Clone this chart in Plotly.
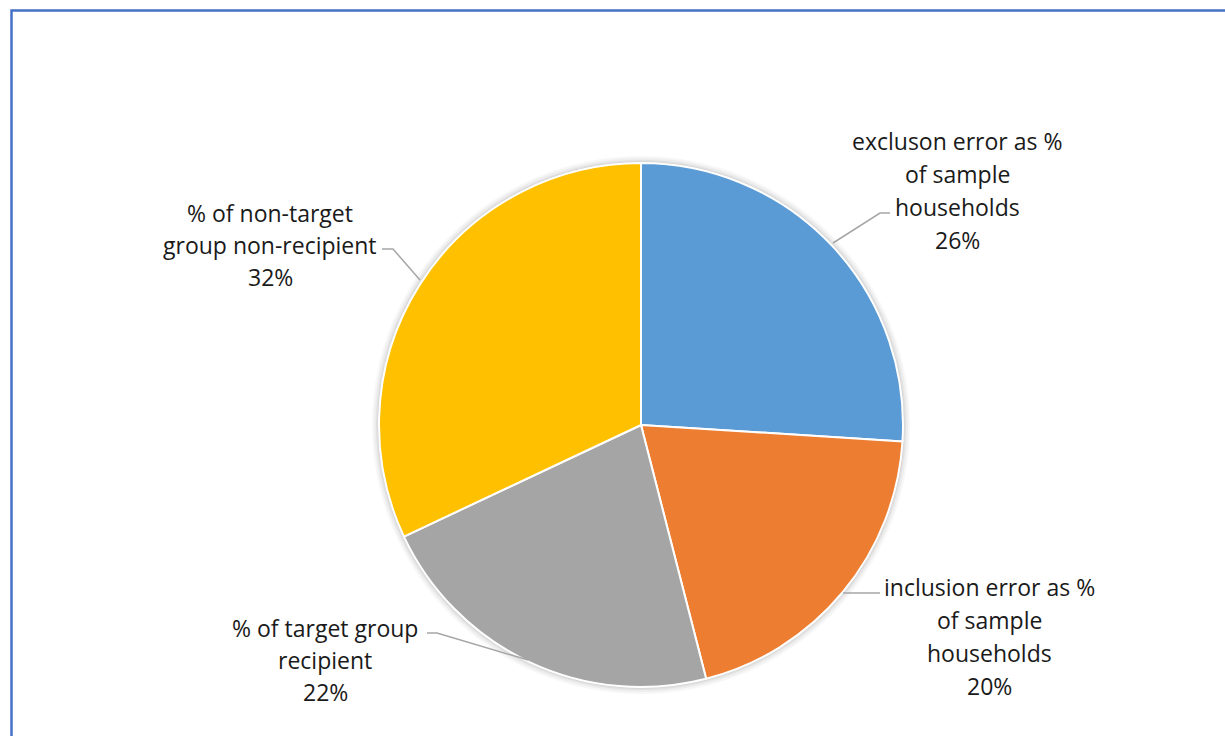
import plotly.graph_objects as go

# Slice data (clockwise from 12 o'clock)
labels = [
    "excluson error as % of sample households",
    "inclusion error as % of sample households",
    "% of target group recipient",
    "% of non-target group non-recipient",
]
values = [26, 20, 22, 32]
colors = ["#5B9BD5", "#ED7D31", "#A5A5A5", "#FFC000"]

# Wrapped label text shown outside the pie
label_lines = [
    ["excluson error as %", "of sample", "households"],
    ["inclusion error as %", "of sample", "households"],
    ["% of target group", "recipient"],
    ["% of non-target", "group non-recipient"],
]

W, H = 1225, 736
CX, CY, R = 641, 425, 262


def px(x):
    return x / W


def py(y):
    return 1 - y / H


fig = go.Figure(
    go.Pie(
        labels=labels,
        values=values,
        sort=False,
        direction="clockwise",
        rotation=0,
        marker=dict(colors=colors, line=dict(color="white", width=2)),
        textinfo="none",
        hoverinfo="label+percent",
        domain=dict(x=[px(CX - R), px(CX + R)], y=[py(CY + R), py(CY - R)]),
        showlegend=False,
    )
)

# Label blocks: centre x and y of the first text line, with line spacing
label_pos = [(957, 141, 33), (989, 587, 33), (325, 628, 32), (270, 213, 32)]
annotations = []
total = sum(values)
for lines, v, (lx, ly, step) in zip(label_lines, values, label_pos):
    text_lines = lines + [f"{round(100 * v / total)}%"]
    for i, t in enumerate(text_lines):
        annotations.append(
            dict(
                x=px(lx), y=py(ly + i * step), xref="paper", yref="paper",
                text=t, showarrow=False, xanchor="center", yanchor="middle",
                font=dict(family="Open Sans, sans-serif", size=23, color="#1a1a1a"),
            )
        )

# Leader lines from labels to slices
leaders = [
    [(890, 213), (880, 213), (833, 243)],
    [(880, 593), (843, 593)],
    [(427, 633), (437, 633), (528, 660)],
    [(382, 249), (393, 249), (420, 280)],
]
shapes = []
for pts in leaders:
    path = "M " + " L ".join(f"{px(x)},{py(y)}" for x, y in pts)
    shapes.append(dict(type="path", xref="paper", yref="paper", path=path,
                       line=dict(color="#A6A6A6", width=1.5)))

# Soft shadow behind the pie
for k, a in [(7, 0.03), (5, 0.04), (3, 0.05), (1.5, 0.06)]:
    shapes.append(dict(type="circle", xref="paper", yref="paper", layer="below",
                       x0=px(CX - R - k), x1=px(CX + R + k),
                       y0=py(CY + R + k), y1=py(CY - R - k),
                       fillcolor=f"rgba(0,0,0,{a})", line=dict(width=0)))

# Chart-area frame
shapes.append(dict(type="rect", xref="paper", yref="paper",
                   x0=px(11.5), x1=px(W + 20), y0=py(H + 20), y1=py(10.5),
                   line=dict(color="#4472C4", width=2.5)))

fig.update_layout(
    width=W, height=H,
    margin=dict(l=0, r=0, t=0, b=0),
    paper_bgcolor="white", plot_bgcolor="white",
    annotations=annotations, shapes=shapes,
)

fig.write_html("out.html")
